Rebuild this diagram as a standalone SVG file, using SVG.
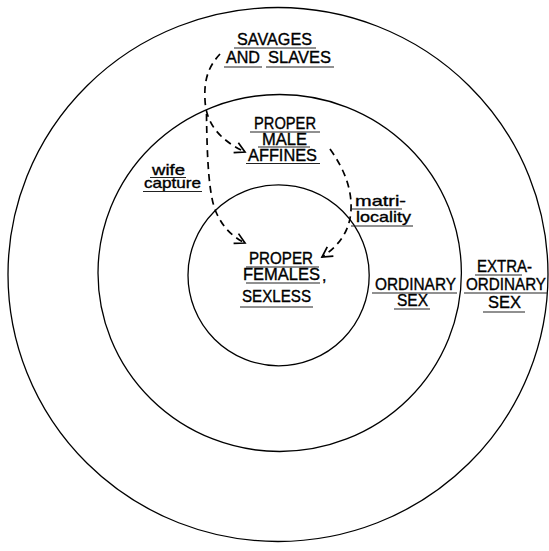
<svg xmlns="http://www.w3.org/2000/svg" width="549" height="551" viewBox="0 0 549 551">
<defs>
<style>
.ring{fill:none;stroke:#000;stroke-width:1.3}
.t{font-family:"Liberation Sans",Arial,sans-serif;font-size:16px;fill:#000;stroke:#000;stroke-width:0.35}
.s{font-size:15px}
.u{stroke:#222;stroke-width:1.2}
.c{fill:none;stroke:#000;stroke-width:1.7;stroke-dasharray:7 5}
</style>
<marker id="ah" markerUnits="userSpaceOnUse" markerWidth="16" markerHeight="16" refX="0" refY="0" viewBox="-13 -8 16 16" orient="auto">
<path d="M-10,-5.5 L0,0 L-10,5.5" fill="none" stroke="#000" stroke-width="1.7"/>
</marker>
</defs>
<rect width="549" height="551" fill="#fff"/>
<g id="rings">
<ellipse id="ring-outer" class="ring" cx="278" cy="274.5" rx="270" ry="267"/>
<ellipse id="ring-middle" class="ring" cx="279.7" cy="273" rx="181.7" ry="178.5"/>
<ellipse id="ring-inner" class="ring" cx="278.6" cy="275.3" rx="90.6" ry="90.5"/>
</g>
<g id="connectors">
<path class="c" d="M220,54 C207,68 204,82 205,100 C206,124 220,140 245,152" marker-end="url(#ah)"/>
<path class="c" d="M206.5,114 C207,160 209,196 216,212 C223,228 233,237 245,243" marker-end="url(#ah)"/>
<path class="c" d="M330,149 C345,170 352,190 351,210 C350,230 340,245 322,257" marker-end="url(#ah)"/>
</g>
<g id="savages-and-slaves">
<text class="t" x="237" y="45" textLength="75" lengthAdjust="spacingAndGlyphs">SAVAGES</text>
<text class="t" x="226" y="63" textLength="34" lengthAdjust="spacingAndGlyphs">AND</text>
<text class="t" x="268" y="63" textLength="63" lengthAdjust="spacingAndGlyphs">SLAVES</text>
<line class="u" x1="234" y1="48" x2="316" y2="48"/>
<line class="u" x1="224" y1="67" x2="262" y2="67"/>
<line class="u" x1="266" y1="67" x2="334" y2="67"/>
</g>
<g id="proper-male-affines">
<text class="t" x="254" y="129" textLength="62" lengthAdjust="spacingAndGlyphs">PROPER</text>
<text class="t" x="262" y="145" textLength="45" lengthAdjust="spacingAndGlyphs">MALE</text>
<text class="t" x="248" y="161" textLength="69" lengthAdjust="spacingAndGlyphs">AFFINES</text>
<line class="u" x1="250" y1="132" x2="320" y2="132"/>
<line class="u" x1="258" y1="147" x2="310" y2="147"/>
<line class="u" x1="246" y1="163.5" x2="320" y2="163.5"/>
</g>
<g id="wife-capture">
<text class="t s" x="152" y="174.5" textLength="33" lengthAdjust="spacingAndGlyphs">wife</text>
<text class="t s" x="144" y="188" textLength="57" lengthAdjust="spacingAndGlyphs">capture</text>
<line class="u" x1="150" y1="177.5" x2="186" y2="177.5"/>
<line class="u" x1="143" y1="191.5" x2="202" y2="191.5"/>
</g>
<g id="matrilocality">
<text class="t s" x="355" y="206" textLength="51" lengthAdjust="spacingAndGlyphs">matri-</text>
<text class="t s" x="356" y="222" textLength="55" lengthAdjust="spacingAndGlyphs">locality</text>
<line class="u" x1="352" y1="209" x2="402" y2="209"/>
<line class="u" x1="351" y1="226" x2="413" y2="226"/>
</g>
<g id="proper-females-sexless">
<text class="t" x="249" y="264" textLength="64" lengthAdjust="spacingAndGlyphs">PROPER</text>
<text class="t" x="243" y="280" textLength="77" lengthAdjust="spacingAndGlyphs">FEMALES</text>
<text class="t" x="322" y="281">,</text>
<text class="t" x="242" y="302" textLength="69" lengthAdjust="spacingAndGlyphs">SEXLESS</text>
<line class="u" x1="246" y1="267" x2="319" y2="267"/>
<line class="u" x1="246" y1="283" x2="320" y2="283"/>
<line class="u" x1="240" y1="307" x2="313" y2="307"/>
</g>
<g id="ordinary-sex">
<text class="t" x="375" y="290" textLength="81" lengthAdjust="spacingAndGlyphs">ORDINARY</text>
<text class="t" x="397" y="306" textLength="31" lengthAdjust="spacingAndGlyphs">SEX</text>
<line class="u" x1="372" y1="293" x2="457" y2="293"/>
<line class="u" x1="394" y1="309" x2="430" y2="309"/>
</g>
<g id="extra-ordinary-sex">
<text class="t" x="477" y="272" textLength="55" lengthAdjust="spacingAndGlyphs">EXTRA-</text>
<text class="t" x="466" y="290" textLength="80" lengthAdjust="spacingAndGlyphs">ORDINARY</text>
<text class="t" x="488" y="308" textLength="33" lengthAdjust="spacingAndGlyphs">SEX</text>
<line class="u" x1="475" y1="275" x2="522" y2="275"/>
<line class="u" x1="464" y1="293" x2="548" y2="293"/>
<line class="u" x1="483" y1="312" x2="525" y2="312"/>
</g>
</svg>
